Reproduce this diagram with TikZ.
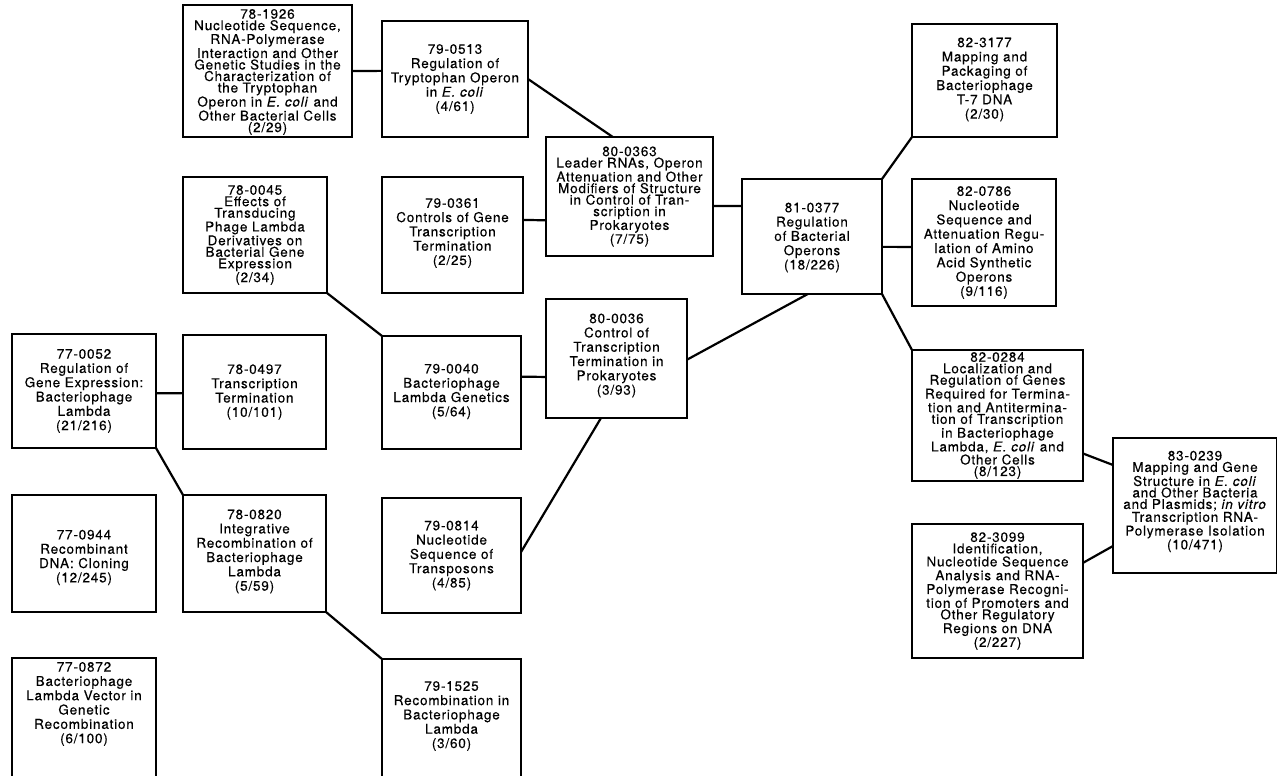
\documentclass[tikz,border=0pt]{standalone}
\usepackage{fontspec}
\setmainfont{TeX Gyre Heros}[LetterSpace=6,FakeBold=0.3]
\usetikzlibrary{calc}
\tikzset{
  box/.style={draw, line width=2.2pt, inner sep=0pt, outer sep=0pt},
  conn/.style={line width=2.2pt},
  tight/.style={align=center, inner sep=0pt, font=\fontsize{13.5}{11.5}\selectfont},
  loose/.style={align=center, inner sep=0pt, font=\fontsize{13.5}{14.3}\selectfont},
}
% #1 name, #2 text style, #3 x1, #4 y1, #5 x2, #6 y2, #7 text, #8 vertical text offset
\newcommand\bx[8]{%
  \node[box, minimum width={#5-#3}, minimum height={#6-#4}] (#1) at ({(#3+#5)/2},{(#4+#6)/2}) {};
  \node[#2] (#1t) at ($(#1.center)+(0,#8)$) {#7};
}
\begin{document}
\begin{tikzpicture}[x=1pt,y=-1pt]
\path[use as bounding box] (0,0) rectangle (1277,776);
\clip (0,0) rectangle (1277,776);

\bx{n1926}{tight}{183}{5}{352}{137}{78-1926\\Nucleotide Sequence,\\RNA-Polymerase\\Interaction and Other\\Genetic Studies in the\\Characterization of\\the Tryptophan\\Operon in \textit{E. coli} and\\Other Bacterial Cells\\(2/29)}{1}
\bx{n0513}{loose}{382}{21}{528}{137}{79-0513\\Regulation of\\Tryptophan Operon\\in \textit{E. coli}\\(4/61)}{0}
\bx{n0045}{tight}{183}{177}{327}{293}{78-0045\\Effects of\\Transducing\\Phage Lambda\\Derivatives on\\Bacterial Gene\\Expression\\(2/34)}{0}
\bx{n0361}{loose}{382}{177}{523}{293}{79-0361\\Controls of Gene\\Transcription\\Termination\\(2/25)}{-2}
\bx{n0363}{tight}{546}{137}{713}{256}{80-0363\\Leader RNAs, Operon\\Attenuation and Other\\Modifiers of Structure\\in Control of Tran-\\scription in\\Prokaryotes\\(7/75)}{0}
\bx{n0377}{loose}{742}{179}{882}{294}{81-0377\\Regulation\\of Bacterial\\Operons\\(18/226)}{1}
\bx{n3177}{loose}{912}{24}{1057}{137}{82-3177\\Mapping and\\Packaging of\\Bacteriophage\\T-7 DNA\\(2/30)}{-1}
\bx{n0786}{loose}{912}{179}{1056}{306}{82-0786\\Nucleotide\\Sequence and\\Attenuation Regu-\\lation of Amino\\Acid Synthetic\\Operons\\(9/116)}{0}
\bx{n0036}{loose}{546}{299}{687}{418}{80-0036\\Control of\\Transcription\\Termination in\\Prokaryotes\\(3/93)}{-3}
\bx{n0052}{loose}{12}{334}{156}{448}{77-0052\\Regulation of\\Gene Expression:\\Bacteriophage\\Lambda\\(21/216)}{0}
\bx{n0497}{loose}{183}{335}{326}{449}{78-0497\\Transcription\\Termination\\(10/101)}{0}
\bx{n0040}{loose}{382}{336}{521}{449}{79-0040\\Bacteriophage\\Lambda Genetics\\(5/64)}{-1}
\bx{n0284}{tight}{912}{350}{1083}{481}{82-0284\\Localization and\\Regulation of Genes\\Required for Termina-\\tion and Antitermina-\\tion of Transcription\\in Bacteriophage\\Lambda, \textit{E. coli} and\\Other Cells\\(8/123)}{0}
\bx{n0239}{tight}{1113}{438}{1277}{573}{83-0239\\Mapping and Gene\\Structure in \textit{E. coli}\\and Other Bacteria\\and Plasmids; \textit{in vitro}\\Transcription RNA-\\Polymerase Isolation\\(10/471)}{-4}
\bx{n0944}{loose}{12}{495}{156}{612}{77-0944\\Recombinant\\DNA: Cloning\\(12/245)}{4}
\bx{n0820}{loose}{183}{495}{326}{612}{78-0820\\Integrative\\Recombination of\\Bacteriophage\\Lambda\\(5/59)}{-2}
\bx{n0814}{loose}{382}{498}{521}{613}{79-0814\\Nucleotide\\Sequence of\\Transposons\\(4/85)}{0}
\bx{n3099}{tight}{912}{524}{1083}{658}{82-3099\\Identification,\\Nucleotide Sequence\\Analysis and RNA-\\Polymerase Recogni-\\tion of Promoters and\\Other Regulatory\\Regions on DNA\\(2/227)}{0}
\bx{n0872}{loose}{12}{658}{156}{790}{77-0872\\Bacteriophage\\Lambda Vector in\\Genetic\\Recombination\\(6/100)}{-20}
\bx{n1525}{loose}{382}{659}{521}{790}{79-1525\\Recombination in\\Bacteriophage\\Lambda\\(3/60)}{-8.5}

% connectors
\draw[conn] (n1926.east) -- ($(n0513.north west)!0.43!(n0513.south west)$);
\draw[conn] (n0513.east) -- ($(n0363.north west)!0.4!(n0363.north east)$);
\draw[conn] ($(n0361.north east)!0.37!(n0361.south east)$) -- ($(n0363.north west)!0.70!(n0363.south west)$);
\draw[conn] ($(n0363.north east)!0.58!(n0363.south east)$) -- ($(n0377.north west)!0.235!(n0377.south west)$);
\draw[conn] (n0377.north east) -- (n3177.south west);
\draw[conn] ($(n0377.north east)!0.59!(n0377.south east)$) -- ($(n0786.north west)!0.535!(n0786.south west)$);
\draw[conn] (n0377.south east) -- (n0284.north west);
\draw[conn] ($(n0377.south west)!0.47!(n0377.south east)$) -- ($(n0036.north east)!0.51!(n0036.south east)$);
\draw[conn] ($(n0036.north west)!0.655!(n0036.south west)$) -- ($(n0040.north east)!0.36!(n0040.south east)$);
\draw[conn] ($(n0036.south west)!0.39!(n0036.south east)$) -- ($(n0814.north east)!0.47!(n0814.south east)$);
\draw[conn] (n0045.south east) -- (n0040.north west);
\draw[conn] ($(n0052.north east)!0.52!(n0052.south east)$) -- ($(n0497.north west)!0.51!(n0497.south west)$);
\draw[conn] (n0052.south east) -- (n0820.north west);
\draw[conn] (n0820.south east) -- (n1525.north west);
\draw[conn] ($(n0284.north east)!0.79!(n0284.south east)$) -- ($(n0239.north west)!0.2!(n0239.south west)$);
\draw[conn] ($(n3099.north east)!0.29!(n3099.south east)$) -- ($(n0239.north west)!0.8!(n0239.south west)$);
\end{tikzpicture}
\end{document}
